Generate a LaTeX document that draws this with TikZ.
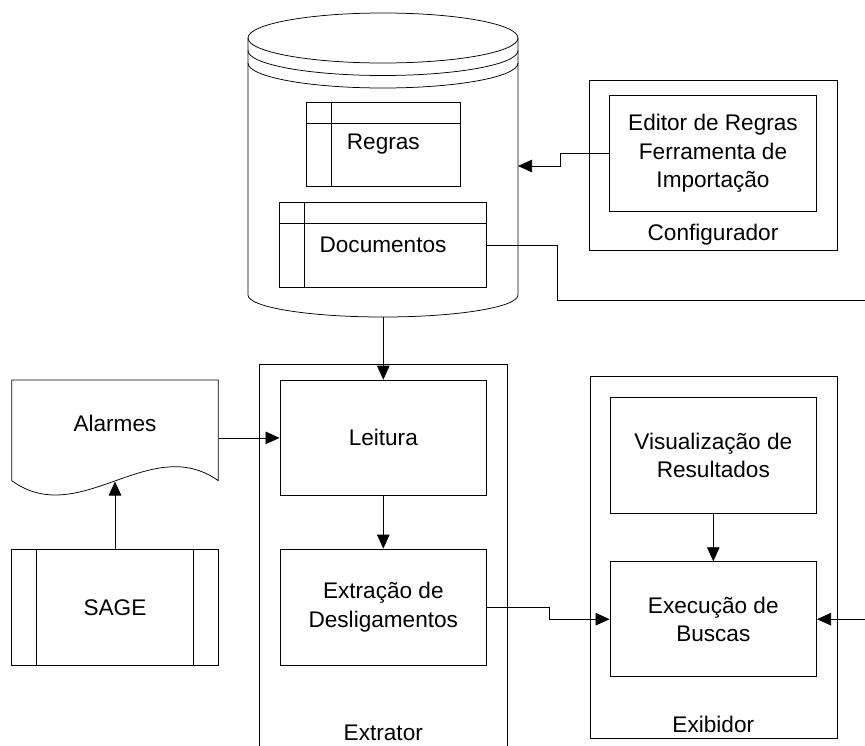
\documentclass[tikz,border=0pt]{standalone}
\usepackage{fontspec}
\setmainfont{Liberation Sans}
\usetikzlibrary{arrows.meta}
\tikzset{
	blk/.style={draw, minimum width=206.7pt, minimum height=115.6pt, align=center, inner sep=0pt},
	tbl/.style={draw, inner sep=0pt, path picture={
		\draw ([xshift=25pt]path picture bounding box.north west) -- ([xshift=25pt]path picture bounding box.south west);
		\draw ([yshift=-21pt]path picture bounding box.north west) -- ([yshift=-21pt]path picture bounding box.north east);}},
	sage/.style={draw, inner sep=0pt, minimum width=206.6pt, minimum height=116.4pt, path picture={
		\draw ([xshift=24.3pt]path picture bounding box.north west) -- ([xshift=24.3pt]path picture bounding box.south west);
		\draw ([xshift=-25pt]path picture bounding box.north east) -- ([xshift=-25pt]path picture bounding box.south east);}},
	arr/.style={-{Triangle[length=14pt,width=12.5pt]}},
}
\begin{document}
\begin{tikzpicture}[x=1pt,y=-1pt,line width=0.75pt,font=\fontsize{22.6}{28.5}\selectfont]
		\useasboundingbox (0,0) rectangle (865,746);
		% base de dados
		\draw (248,38) -- (248,295) arc[start angle=180, end angle=360, x radius=135pt, y radius=22pt] -- (518,38);
		\draw (383,38) ellipse [x radius=135pt, y radius=25pt];
		\draw (248,50.5) arc[start angle=180, end angle=360, x radius=135pt, y radius=25pt];
		\draw (248,63) arc[start angle=180, end angle=360, x radius=135pt, y radius=25pt];
		\coordinate (dbbot) at (383.3,317);
		\coordinate (dbright) at (518,166);
		\node[tbl, minimum width=153.3pt, minimum height=84.4pt] (regras) at (383.3,144.5) {Regras};
		\node[tbl, minimum width=207.4pt, minimum height=84.6pt] (documentos) at (383,245) {Documentos};
		% configurador
		\draw (589.3,80) rectangle (837.3,250);
		\node[blk, minimum height=115.3pt] (editor) at (713,153.3) {Editor de Regras\\Ferramenta de\\Importação};
		\node (configurador) at (713,235) {Configurador};
		% alarmes e SAGE
		\draw (11.7,480.7) -- (11.7,380) -- (218.3,380) -- (218.3,480.7)
			.. controls (150,432) and (80,530) .. (11.7,480.7);
		\node[minimum width=206.6pt, inner sep=0pt] (alarmes) at (115,423) {Alarmes};
		\coordinate (wave) at (115,481.5);
		\node[sage] (sagebox) at (115,607.5) {SAGE};
		% extrator
		\draw (259.3,750) -- (259.3,364.3) -- (507.3,364.3) -- (507.3,750);
		\node[blk] (leitura) at (383.3,437.9) {Leitura};
		\node[blk, minimum height=116pt] (extracao) at (383.3,607) {Extração de\\Desligamentos};
		\node (extrator) at (383.3,733) {Extrator};
		% exibidor
		\draw (590,376.7) rectangle (837.3,738.3);
		\node[blk] (visual) at (713.3,455.5) {Visualização de\\Resultados};
		\node[blk, minimum height=115pt] (execucao) at (713.3,619.2) {Execução de\\Buscas};
		\node (exibidor) at (713.3,724) {Exibidor};
		\coordinate (r1) at (865,300);
		\coordinate (r2) at (865,619.2);
		% ligacoes
		\draw[arr] (editor.west) -- ++(-49.3,0) |- (dbright);
		\draw[arr] (dbbot) -- (leitura.north);
		\draw[arr] (alarmes.east |- leitura.west) -- (leitura.west);
		\draw[arr] (sagebox.north) -- (wave);
		\draw[arr] (leitura) -- (extracao);
		\draw[arr] (extracao.east) -- ++(62,0) |- (execucao.west);
		\draw[arr] (visual) -- (execucao);
		\draw (documentos.east) -- ++(70,0) |- (r1);
		\draw[arr] (r2) -- (execucao.east);
	\end{tikzpicture}
\end{document}
